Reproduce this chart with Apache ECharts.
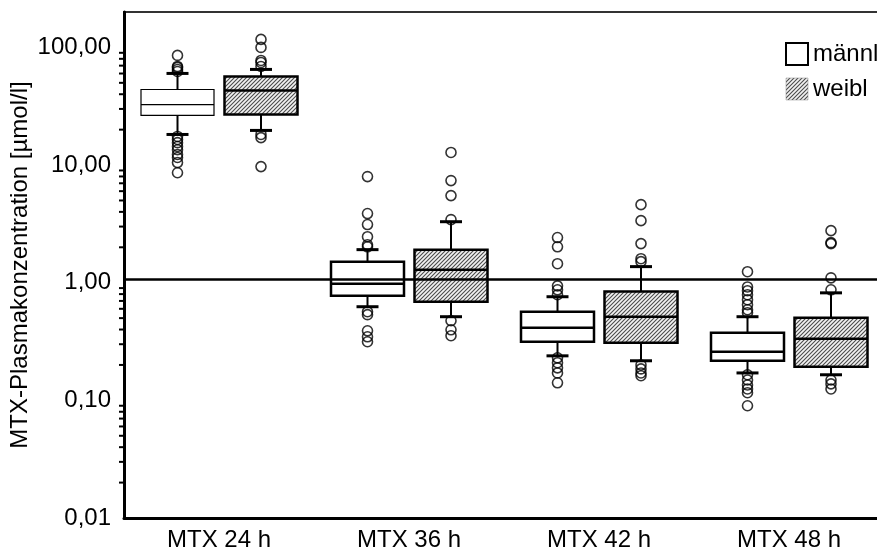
<!DOCTYPE html>
<html>
<head>
<meta charset="utf-8">
<script src="https://cdn.jsdelivr.net/npm/echarts@6/dist/echarts.min.js"></script>
<style>
  html, body { margin: 0; padding: 0; background: #ffffff; }
  #chart { width: 877px; height: 553px; }
</style>
</head>
<body>
<div id="chart"></div>
<script>
// Time points after MTX infusion
const categories = ['MTX 24 h', 'MTX 36 h', 'MTX 42 h', 'MTX 48 h'];
const groupNames = ['männl', 'weibl'];

// Box statistics per time point: [lower whisker, Q1, median, Q3, upper whisker] in µmol/l
const maleBoxes = [
  [18.2, 26.4, 32.7, 43.9, 60.1],
  [0.625, 0.775, 0.98, 1.51, 1.91],
  [0.239, 0.315, 0.414, 0.567, 0.76],
  [0.171, 0.217, 0.259, 0.375, 0.514]
];
const femaleBoxes = [
  [19.7, 26.9, 43.1, 56.6, 65.0],
  [0.514, 0.69, 1.29, 1.91, 3.30],
  [0.217, 0.309, 0.514, 0.84, 1.37],
  [0.165, 0.193, 0.334, 0.504, 0.82]
];

// Outliers per time point
const maleOutliers = [
  [85.5, 68.9, 67.6, 65.0, 62.5, 17.5, 16.5, 15.5, 14.4, 13.5, 12.3, 11.6, 10.5, 8.6],
  [7.98, 3.87, 3.12, 2.46, 2.10, 2.02, 0.567, 0.535, 0.390, 0.347, 0.315],
  [2.42, 2.02, 1.45, 0.94, 0.87, 0.79, 0.230, 0.209, 0.189, 0.171, 0.141],
  [1.24, 0.92, 0.855, 0.79, 0.717, 0.65, 0.589, 0.556, 0.165, 0.149, 0.135, 0.125, 0.116, 0.090]
];
const femaleOutliers = [
  [117, 100, 77.5, 74.5, 68.9, 18.2, 17.1, 9.7],
  [12.8, 7.38, 5.50, 3.44, 0.475, 0.398, 0.354],
  [4.61, 3.37, 2.15, 1.60, 1.51, 0.200, 0.185, 0.171, 0.162],
  [2.77, 2.19, 2.15, 1.10, 0.87, 0.149, 0.138, 0.125]
];

// Horizontal reference level
const refLevel = 1.08;

// Labelled decades of the log axis
const yTickValues = [0.01, 0.1, 1, 10, 100];
const yMin = 0.01;
const yMax = 200;

// ---- drawing ----
const FONT = '"Liberation Sans", Arial, sans-serif';
const BOX_W = 73;
const CAP_W = 22;
const MALE_SHIFT = -41.5;
const FEMALE_SHIFT = 42;
const maleBorder = [1.2, 2.5, 2.5, 2.5];
const femaleBorder = [2.5, 2.5, 2.5, 2.5];

// Diagonal hatch tile for the female boxes
function makeHatch() {
  const n = 4;
  const c = document.createElement('canvas');
  c.width = n; c.height = n;
  const g = c.getContext('2d');
  g.fillStyle = '#f2f2f2';
  g.fillRect(0, 0, n, n);
  g.strokeStyle = '#4a4a4a';
  g.lineWidth = 1.1;
  g.beginPath();
  g.moveTo(0, n); g.lineTo(n, 0);
  g.moveTo(-n, n); g.lineTo(n, -n);
  g.moveTo(0, 2 * n); g.lineTo(2 * n, 0);
  g.stroke();
  return c;
}
const hatchFill = { image: makeHatch(), repeat: 'repeat' };

function boxRenderer(shift, fill, borders) {
  return function (params, api) {
    const i = api.value(0);
    const x = api.coord([i, 1])[0] + shift;
    const yLo = api.coord([i, api.value(1)])[1];
    const yQ1 = api.coord([i, api.value(2)])[1];
    const yMed = api.coord([i, api.value(3)])[1];
    const yQ3 = api.coord([i, api.value(4)])[1];
    const yHi = api.coord([i, api.value(5)])[1];
    const lw = borders[i];
    const line = (x1, y1, x2, y2, w) => ({
      type: 'line',
      shape: { x1: x1, y1: y1, x2: x2, y2: y2 },
      style: { stroke: '#000', lineWidth: w }
    });
    return {
      type: 'group',
      children: [
        line(x, yQ3, x, yHi, 2),
        line(x, yQ1, x, yLo, 2),
        line(x - CAP_W / 2, yHi, x + CAP_W / 2, yHi, 3),
        line(x - CAP_W / 2, yLo, x + CAP_W / 2, yLo, 3),
        {
          type: 'rect',
          shape: { x: x - BOX_W / 2, y: yQ3, width: BOX_W, height: yQ1 - yQ3 },
          style: { fill: fill, stroke: '#000', lineWidth: lw }
        },
        line(x - BOX_W / 2, yMed, x + BOX_W / 2, yMed, lw)
      ]
    };
  };
}

// Minor log ticks (2..9 within each decade)
const minorTicks = [];
for (let d = yMin; d < yMax / 2; d *= 10) {
  for (let k = 2; k <= 9; k++) {
    const v = +(d * k).toPrecision(3);
    if (v < yMax) minorTicks.push([0, v]);
  }
}

const chart = echarts.init(document.getElementById('chart'), null, { renderer: 'canvas' });

chart.setOption({
  animation: false,
  backgroundColor: '#ffffff',
  textStyle: { fontFamily: FONT },
  grid: {
    left: 124, top: 12, right: -7, bottom: 35,
    outerBoundsMode: 'none',
    containLabel: false,
    show: true, borderColor: '#333', borderWidth: 2, backgroundColor: 'transparent'
  },
  legend: {
    left: 785, top: 42, orient: 'vertical', padding: 0,
    itemWidth: 22, itemHeight: 22, itemGap: 11,
    selectedMode: false,
    textStyle: { fontSize: 24, color: '#000', fontFamily: FONT },
    data: [
      { name: groupNames[0], icon: 'rect', itemStyle: { color: '#ffffff', borderColor: '#000', borderWidth: 2 } },
      { name: groupNames[1], icon: 'rect', itemStyle: { color: hatchFill, borderColor: '#888', borderWidth: 0.5 } }
    ]
  },
  xAxis: {
    type: 'category',
    data: categories,
    boundaryGap: true,
    axisLine: { lineStyle: { color: '#000', width: 3 } },
    axisTick: { alignWithLabel: true, length: 4, lineStyle: { color: '#000', width: 2 } },
    axisLabel: { color: '#000', fontSize: 24, margin: 10, fontFamily: FONT },
    splitLine: { show: false }
  },
  yAxis: {
    type: 'log',
    logBase: 10,
    min: yMin,
    max: yMax,
    name: 'MTX-Plasmakonzentration [µmol/l]',
    nameLocation: 'middle',
    nameGap: 92,
    nameMoveOverlap: false,
    nameTextStyle: { color: '#000', fontSize: 24, fontFamily: FONT },
    axisLine: { show: true, lineStyle: { color: '#000', width: 3 } },
    axisTick: { length: 6, lineStyle: { color: '#000', width: 2 } },
    axisLabel: {
      color: '#000', fontSize: 24, margin: 13, fontFamily: FONT,
      formatter: function (v) {
        const hit = yTickValues.find(t => Math.abs(t - v) / t < 1e-6);
        return hit === undefined ? '' : hit.toFixed(2).replace('.', ',');
      }
    },
    splitLine: { show: false }
  },
  series: [
    {
      name: 'minor ticks',
      type: 'custom',
      silent: true,
      clip: false,
      z: 5,
      data: minorTicks,
      encode: { x: 0, y: 1 },
      renderItem: function (params, api) {
        const y = api.coord([0, api.value(1)])[1];
        const x0 = params.coordSys.x;
        return {
          type: 'line',
          shape: { x1: x0 - 5, y1: y, x2: x0, y2: y },
          style: { stroke: '#000', lineWidth: 2 }
        };
      }
    },
    {
      name: groupNames[0],
      type: 'custom',
      z: 2,
      itemStyle: { color: '#ffffff', borderColor: '#000', borderWidth: 2 },
      data: maleBoxes.map((b, i) => [i].concat(b)),
      encode: { x: 0, y: [1, 2, 3, 4, 5] },
      renderItem: boxRenderer(MALE_SHIFT, '#ffffff', maleBorder)
    },
    {
      name: groupNames[1],
      type: 'custom',
      z: 2,
      itemStyle: { color: hatchFill, borderColor: '#000', borderWidth: 2 },
      data: femaleBoxes.map((b, i) => [i].concat(b)),
      encode: { x: 0, y: [1, 2, 3, 4, 5] },
      renderItem: boxRenderer(FEMALE_SHIFT, hatchFill, femaleBorder)
    },
    {
      name: 'männl Ausreißer',
      type: 'scatter',
      z: 3,
      symbol: 'circle',
      symbolSize: 10,
      symbolOffset: [MALE_SHIFT, 0],
      itemStyle: { color: 'transparent', borderColor: '#000', borderWidth: 1.6 },
      data: maleOutliers.flatMap((arr, i) => arr.map(v => [i, v]))
    },
    {
      name: 'weibl Ausreißer',
      type: 'scatter',
      z: 3,
      symbol: 'circle',
      symbolSize: 10,
      symbolOffset: [FEMALE_SHIFT, 0],
      itemStyle: { color: 'transparent', borderColor: '#000', borderWidth: 1.6 },
      data: femaleOutliers.flatMap((arr, i) => arr.map(v => [i, v])),
      markLine: {
        silent: true,
        symbol: 'none',
        label: { show: false },
        lineStyle: { color: '#000', width: 2.5, type: 'solid' },
        data: [{ yAxis: refLevel }]
      }
    }
  ]
});
</script>
</body>
</html>
